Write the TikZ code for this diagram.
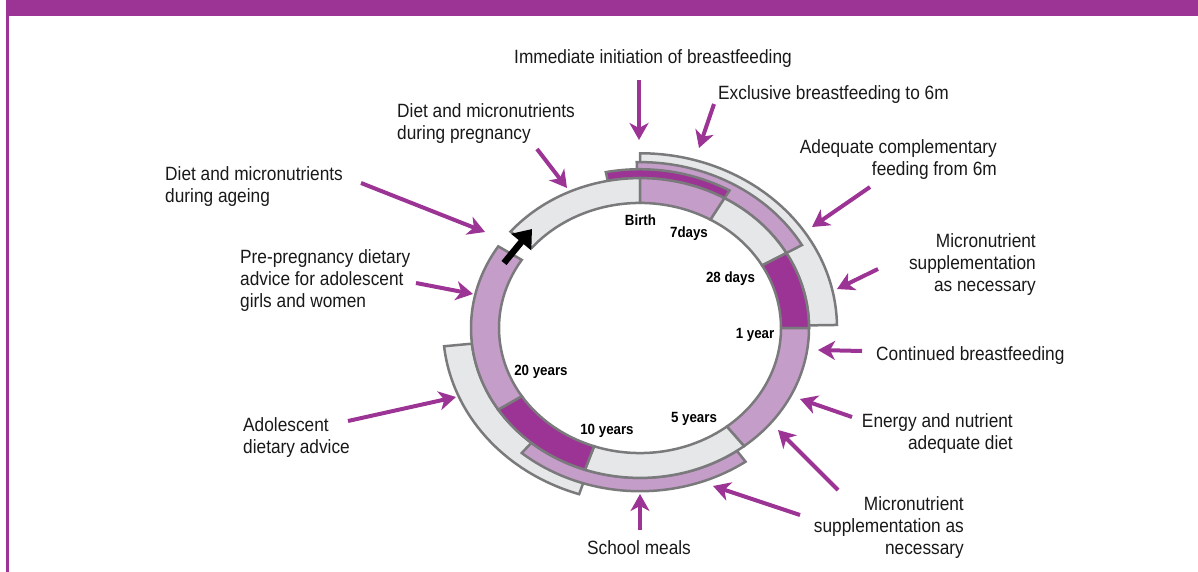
\documentclass[tikz,border=0pt]{standalone}
\usepackage{fontspec}
\setmainfont{Liberation Sans}[FakeStretch=0.9]
\usetikzlibrary{arrows.meta}

\definecolor{hdrpurple}{RGB}{155,52,148}
\definecolor{ringpink}{RGB}{197,157,201}
\definecolor{ringgrey}{RGB}{230,231,232}
\definecolor{rimgrey}{RGB}{122,122,124}

% one band of the life-course ring: inner r, outer r, from angle, to angle, fill
\newcommand{\ringband}[5]{%
  \filldraw[seg, fill=#5] (#3:#1) arc[start angle=#3, end angle=#4, radius=#1]
    -- (#4:#2) arc[start angle=#4, end angle=#3, radius=#2] -- cycle;}

\begin{document}
\begin{tikzpicture}[
  x=1pt, y=-1pt,
  seg/.style={draw=rimgrey, line width=2.5pt, line join=miter},
  lbl/.style={font=\fontsize{19.2}{22}\selectfont, inner sep=0pt, text=black!90},
  yr/.style={font=\bfseries\fontsize{14.8}{16}\selectfont, inner sep=0pt, anchor=base},
  pointer/.style={draw=hdrpurple, line width=4pt,
    -{Stealth[length=17pt, width=19pt, inset=5pt]}}
]
  \useasboundingbox (0,0) rectangle (1198,572);
  % heading bar and side rule
  \fill[hdrpurple] (6,0) rectangle (1198,16.5);
  \draw[hdrpurple, line width=2.5pt] (7.3,0) -- (7.3,572);

  % the ring
  \begin{scope}[shift={(640,328)}, yscale=-0.887]
    % outer bands
    \ringband{169}{197}{1}{90}{ringgrey}
    \ringband{169}{187}{30}{91}{ringpink}
    \ringband{169}{179}{60}{101}{hdrpurple}
    \ringband{169}{197}{-174}{-108}{ringgrey}
    \ringband{169}{184}{-130}{-55}{ringpink}
    % main ring
    \ringband{141}{169}{90}{140}{ringgrey}
    \ringband{141}{169}{60}{90}{ringpink}
    \ringband{141}{169}{30}{60}{ringgrey}
    \ringband{141}{169}{0}{30}{hdrpurple}
    \ringband{141}{169}{-52}{0}{ringpink}
    \ringband{141}{169}{-109}{-52}{ringgrey}
    \ringband{141}{169}{-147}{-109}{hdrpurple}
    \ringband{141}{169}{147}{213}{ringpink}
  \end{scope}
  \coordinate (gapT) at (504,263);
  \coordinate (gapH) at (532,229);
  \draw[line width=6.5pt, -{Triangle[length=17pt, width=25pt]}] (gapT) -- (gapH);

  % ages on the ring
  \node[yr] (birth) at (640.5,225) {Birth};
  \node[yr] (d7) at (689,237) {7days};
  \node[yr] (d28) at (730.5,282) {28 days};
  \node[yr] (y1) at (755,338) {1 year};
  \node[yr] (y5) at (694,422) {5 years};
  \node[yr] (y10) at (607,434) {10 years};
  \node[yr] (y20) at (541,375) {20 years};

  % interventions
  \node[lbl, anchor=north] (imm) at (653,49) {Immediate initiation of breastfeeding};
  \node[lbl, anchor=north west] (excl) at (718,85) {Exclusive breastfeeding to 6m};
  \node[lbl, anchor=north west, align=left] (dpreg) at (397,103) {Diet and micronutrients\\during pregnancy};
  \node[lbl, anchor=north west, align=left] (dage) at (165,166) {Diet and micronutrients\\during ageing};
  \node[lbl, anchor=north west, align=left] (prepreg) at (240,249) {Pre-pregnancy dietary\\advice for adolescent\\girls and women};
  \node[lbl, anchor=north west, align=left] (adol) at (243,417) {Adolescent\\dietary advice};
  \node[lbl, anchor=north] (school) at (639,540) {School meals};
  \node[lbl, anchor=north east, align=right] (microlo) at (964,496) {Micronutrient\\supplementation as\\necessary};
  \node[lbl, anchor=north east, align=right] (energy) at (1013,413) {Energy and nutrient\\adequate diet};
  \node[lbl, anchor=north west] (cont) at (876,346) {Continued breastfeeding};
  \node[lbl, anchor=north east, align=right] (microhi) at (1036,233) {Micronutrient\\supplementation\\as necessary};
  \node[lbl, anchor=north east, align=right] (adeq) at (997,139) {Adequate complementary\\feeding from 6m};

  % arrow ends
  \coordinate (immT) at (639,80);      \coordinate (immH) at (639,140);
  \coordinate (exclT) at (714,104);    \coordinate (exclH) at (699,148);
  \coordinate (dpregT) at (537,149);   \coordinate (dpregH) at (567,188);
  \coordinate (dageT) at (361,183);    \coordinate (dageH) at (485,232);
  \coordinate (prepregT) at (416,283); \coordinate (prepregH) at (473,294);
  \coordinate (adolT) at (348,421);    \coordinate (adolH) at (456,397);
  \coordinate (schoolT) at (640,530);  \coordinate (schoolH) at (640,494);
  \coordinate (microloT) at (800,515); \coordinate (microloH) at (713,486);
  \coordinate (microlo2T) at (838,490);\coordinate (microlo2H) at (778,430);
  \coordinate (energyT) at (852,417);  \coordinate (energyH) at (800,399);
  \coordinate (contT) at (862,351);    \coordinate (contH) at (818,350);
  \coordinate (microhiT) at (878,269); \coordinate (microhiH) at (837,289);
  \coordinate (adeqT) at (870,187);    \coordinate (adeqH) at (812,227);

  \foreach \a in {imm,excl,dpreg,dage,prepreg,adol,school,microlo,microlo2,energy,cont,microhi,adeq}
    \draw[pointer] (\a T) -- (\a H);
\end{tikzpicture}
\end{document}
